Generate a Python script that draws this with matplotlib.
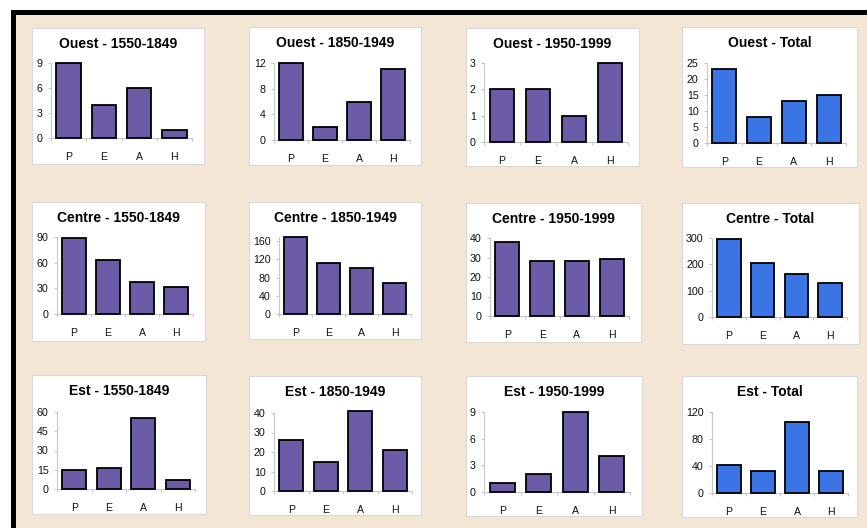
import matplotlib
matplotlib.use('Agg')
import matplotlib.pyplot as plt
from matplotlib.patches import Rectangle

plt.rcParams['font.family'] = ['Liberation Sans', 'DejaVu Sans']

# ---------------- data ----------------
categories = ['P', 'E', 'A', 'H']
regions = ['Ouest', 'Centre', 'Est']
periods = ['1550-1849', '1850-1949', '1950-1999', 'Total']

ouest_1550 = [9, 4, 6, 1]
ouest_1850 = [12, 2, 6, 11]
ouest_1950 = [2, 2, 1, 3]
ouest_total = [23, 8, 13, 15]

centre_1550 = [89, 63, 37, 31]
centre_1850 = [168, 113, 100, 69]
centre_1950 = [38, 28, 28, 29]
centre_total = [295, 204, 165, 128]

est_1550 = [15, 16, 55, 7]
est_1850 = [26, 15, 41, 21]
est_1950 = [1, 2, 9, 4]
est_total = [42, 33, 105, 32]

values = [
    [ouest_1550, ouest_1850, ouest_1950, ouest_total],
    [centre_1550, centre_1850, centre_1950, centre_total],
    [est_1550, est_1850, est_1950, est_total],
]

yticks = [
    [[0, 3, 6, 9], [0, 4, 8, 12], [0, 1, 2, 3], [0, 5, 10, 15, 20, 25]],
    [[0, 30, 60, 90], [0, 40, 80, 120, 160], [0, 10, 20, 30, 40], [0, 100, 200, 300]],
    [[0, 15, 30, 45, 60], [0, 10, 20, 30, 40], [0, 3, 6, 9], [0, 40, 80, 120]],
]
ymax = [
    [9, 12, 3, 25],
    [90, 169, 40, 300],
    [60, 40, 9, 120],
]

# ---------------- layout (pixels, top-left origin) ----------------
W, H = 867, 528
panels = [
    [(32, 28, 204, 164), (249, 27, 421, 165), (466, 28, 639, 166), (682, 27, 857, 167)],
    [(32, 202, 205, 341), (249, 202, 421, 339), (466, 203, 641, 342), (682, 203, 859, 344)],
    [(32, 375, 206, 514), (249, 376, 421, 515), (466, 376, 642, 516), (682, 376, 857, 517)],
]
axes_px = [
    [(51, 63, 192, 138), (274, 63, 410, 140), (484, 63, 628, 142), (707, 63, 846, 143)],
    [(57, 237, 193, 314), (279, 237, 411, 314), (490, 238, 629, 316), (712, 238, 847, 317)],
    [(57, 412, 195, 489), (274, 413, 412, 491), (484, 412, 630, 492), (712, 412, 848, 493)],
]

purple = '#6C5BA7'
blue = '#3A74E5'
beige = '#F3E6D5'
grid_gray = '#C8C8C8'


def fx(x):
    return x / W


def fy(y):
    return 1 - y / H


fig = plt.figure(figsize=(W / 100, H / 100), dpi=100)
fig.patch.set_facecolor('white')

# black frame + beige background
fig.patches.append(Rectangle((fx(11), 0), 1 - fx(11), fy(10), transform=fig.transFigure,
                             facecolor='black', edgecolor='none', zorder=-3))
fig.patches.append(Rectangle((fx(16), 0), 1 - fx(16), fy(15), transform=fig.transFigure,
                             facecolor=beige, edgecolor='none', zorder=-2))

for r in range(3):
    for c in range(4):
        x0, y0, x1, y1 = panels[r][c]
        fig.patches.append(Rectangle((fx(x0), fy(y1)), fx(x1 - x0), (y1 - y0) / H,
                                     transform=fig.transFigure, facecolor='white',
                                     edgecolor='#D8D8D8', linewidth=0.8, zorder=-1))
        fig.text(fx((x0 + x1) / 2), fy(y0 + 16), f'{regions[r]} - {periods[c]}',
                 ha='center', va='center', fontsize=10, fontweight='bold', color='black')

        ax0, ay0, ax1, ay1 = axes_px[r][c]
        ax = fig.add_axes([fx(ax0), fy(ay1), (ax1 - ax0) / W, (ay1 - ay0) / H])
        ax.set_zorder(2)
        ax.patch.set_alpha(0)
        color = blue if c == 3 else purple
        ax.bar(range(len(categories)), values[r][c], width=0.69, color=color,
               edgecolor='black', linewidth=1.3, zorder=3, clip_on=False)
        ax.set_xlim(-0.5, len(categories) - 0.5)
        ax.set_ylim(0, ymax[r][c])
        ax.set_yticks(yticks[r][c])
        ax.set_yticklabels([str(v) for v in yticks[r][c]])
        ax.set_xticks([i - 0.5 for i in range(len(categories) + 1)])
        ax.set_xticklabels([])
        ax.set_xticks(range(len(categories)), minor=True)
        ax.set_xticklabels(categories, minor=True)
        ax.tick_params(axis='x', which='major', length=2.5, color=grid_gray, width=0.8)
        ax.tick_params(axis='x', which='minor', length=0, pad=10, labelsize=7.6,
                       labelcolor='#111111')
        ax.tick_params(axis='y', length=2, color=grid_gray, width=0.8, pad=4, labelsize=7.7,
                       labelcolor='#111111')
        for s in ['top', 'right']:
            ax.spines[s].set_visible(False)
        for s in ['left', 'bottom']:
            ax.spines[s].set_color(grid_gray)
            ax.spines[s].set_linewidth(0.8)

fig.savefig('out.png', dpi=100, facecolor=fig.get_facecolor())
